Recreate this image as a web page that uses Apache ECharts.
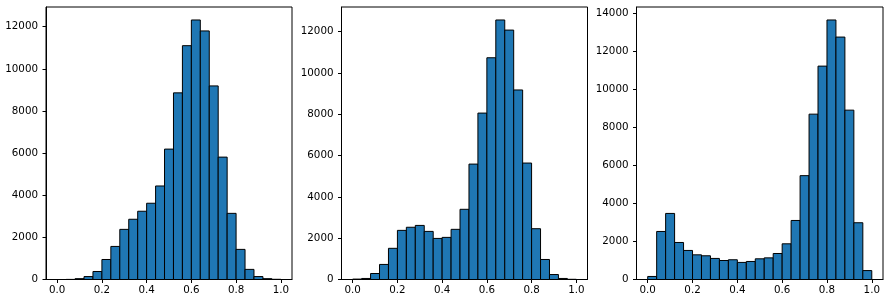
<!DOCTYPE html>
<html>
<head>
<meta charset="utf-8">
<script src="https://cdn.jsdelivr.net/npm/echarts@6/dist/echarts.min.js"></script>
<style>
html,body{margin:0;padding:0;background:#fff;}
#chart{width:890px;height:303px;}
</style>
</head>
<body>
<div id="chart"></div>
<script>
// Bin edges: 25 equal bins from 0 to 1
const binEdges = [0,0.04,0.08,0.12,0.16,0.2,0.24,0.28,0.32,0.36,0.4,0.44,0.48,0.52,0.56,0.6,0.64,0.68,0.72,0.76,0.8,0.84,0.88,0.92,0.96,1.0];

const counts1 = [0,5,40,140,380,950,1570,2380,2860,3240,3620,4440,6190,8860,11100,12320,11800,9190,5810,3140,1430,480,140,40,10];
const counts2 = [20,50,290,730,1510,2380,2530,2620,2330,1990,2040,2430,3400,5590,8060,10740,12570,12080,9180,5640,2460,970,240,50,10];
const counts3 = [160,2530,3480,1950,1530,1300,1250,1110,1000,1040,900,950,1090,1140,1370,1880,3110,5470,8710,11240,13670,12770,8920,2990,470];

const xTicks = [0,0.2,0.4,0.6,0.8,1.0];
const yTicks1 = [0,2000,4000,6000,8000,10000,12000];
const yTicks2 = [0,2000,4000,6000,8000,10000,12000];
const yTicks3 = [0,2000,4000,6000,8000,10000,12000,14000];

const panels = [
  {counts: counts1, yTicks: yTicks1, left: 46, width: 246},
  {counts: counts2, yTicks: yTicks2, left: 341.5, width: 246},
  {counts: counts3, yTicks: yTicks3, left: 636.5, width: 246.5}
];

const chart = echarts.init(document.getElementById('chart'), null, {renderer: 'canvas'});

const labelStyle = {color: '#000', fontSize: 10.3, fontFamily: 'DejaVu Sans'};

const grids = [], xAxes = [], yAxes = [], series = [];
panels.forEach((p, i) => {
  grids.push({left: p.left, top: 7, width: p.width, height: 272.5, show: true,
    borderColor: '#000', borderWidth: 1, backgroundColor: 'transparent', containLabel: false});
  xAxes.push({type: 'value', gridIndex: i, min: -0.05, max: 1.05,
    axisLine: {show: true, onZero: false, lineStyle: {color: '#000', width: 1}},
    axisTick: {show: true, length: 3.5, lineStyle: {color: '#000'}, customValues: xTicks},
    axisLabel: Object.assign({margin: 6, customValues: xTicks, formatter: v => v.toFixed(1)}, labelStyle),
    splitLine: {show: false}});
  const ymax = Math.max.apply(null, p.counts) * 1.05;
  yAxes.push({type: 'value', gridIndex: i, min: 0, max: ymax,
    axisLine: {show: true, onZero: false, lineStyle: {color: '#000', width: 1}},
    axisTick: {show: true, length: 3.5, lineStyle: {color: '#000'}, customValues: p.yTicks},
    axisLabel: Object.assign({margin: 8, customValues: p.yTicks, formatter: v => String(v)}, labelStyle),
    splitLine: {show: false}});
  const data = p.counts.map((c, k) => [binEdges[k], binEdges[k + 1], c]);
  series.push({type: 'custom', xAxisIndex: i, yAxisIndex: i, data: data,
    encode: {x: [0, 1], y: 2},
    renderItem: function (params, api) {
      const p0 = api.coord([api.value(0), 0]);
      const p1 = api.coord([api.value(1), api.value(2)]);
      return {type: 'rect',
        shape: {x: p0[0], y: p1[1], width: p1[0] - p0[0], height: p0[1] - p1[1]},
        style: {fill: '#1f77b4', stroke: '#000', lineWidth: 1}};
    }});
});

chart.setOption({animation: false, grid: grids, xAxis: xAxes, yAxis: yAxes, series: series});
</script>
</body>
</html>
